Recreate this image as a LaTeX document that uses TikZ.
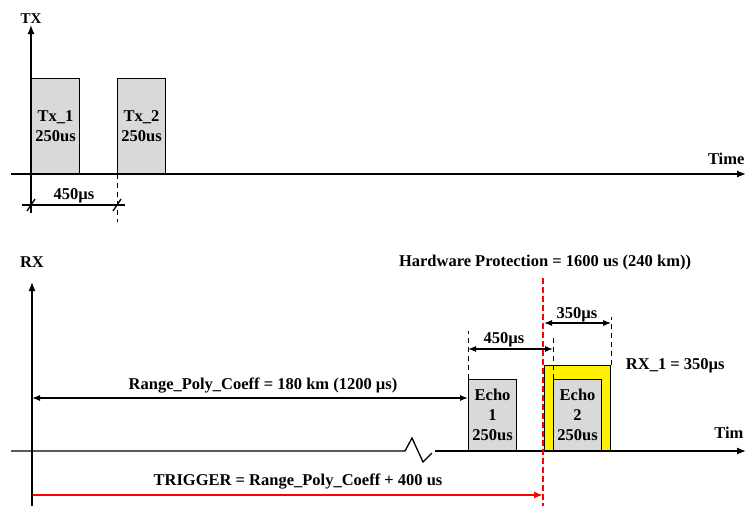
\documentclass[tikz,border=0pt]{standalone}
\usepackage{fontspec}
\setmainfont{Liberation Serif}
\usetikzlibrary{arrows.meta}
\tikzset{
  pulse/.style={draw, line width=1.2pt, fill=gray!30, minimum width=48pt,
    align=center, inner sep=0pt, anchor=south west},
  dimline/.style={line width=1.2pt, {Latex[length=8pt,width=6pt]}-{Latex[length=8pt,width=6pt]}},
  guide/.style={line width=1pt, dash pattern=on 5pt off 4pt},
}
\begin{document}
\begin{tikzpicture}[x=1pt, y=-1pt, line width=1.3pt,
  font=\fontsize{16.5}{20}\selectfont\bfseries,
  >={Latex[length=9pt,width=7pt]}]
\useasboundingbox (0,0) rectangle (746,506);
% TX
\pgfmathsetmacro{\t}{174}
\draw [->] (31,213)--(31,25);
\node[anchor=base, font=\fontsize{15}{18}\selectfont\bfseries] (txlab) at (31,23) {TX};
\draw [->] (11,\t)--(746,\t);
\node[anchor=base east, inner xsep=0pt] (txtime) at (745,164) {Time};
\node[pulse, minimum height=95pt] (tx1) at (31,\t) {Tx\_1\\250us};
\node[pulse, minimum height=95pt] (tx2) at (117,\t) {Tx\_2\\250us};
\draw [guide] (tx2.south west)--++(0,48);
\coordinate (d1) at (22,205);
\draw (d1)--(125,205);
\draw (27,211)--(35,199);
\draw (113,211)--(121,199);
\node[anchor=base] (txgap) at (74,199) {450µs};
% RX
\pgfmathsetmacro{\r}{451}
\draw [->] (32,506)--(32,282);
\node[anchor=base] (rxlab) at (32,267) {RX};
\draw (11,\r)--(405,\r)--(412,438)--(423,462)--(432,453);
\draw [->] (435,\r)--(746,\r);
\node[anchor=base east, inner xsep=0pt] (rxtime) at (744,438) {Tim};
\node[draw, line width=1.2pt, fill=yellow, minimum width=66pt, minimum height=85pt,
  inner sep=0pt, anchor=south west] (rxwin) at (544,\r) {};
\node[pulse, minimum height=71pt] (echo1) at (468,\r) {Echo\\1\\250us};
\node[pulse, minimum height=71pt] (echo2) at (553,\r) {Echo\\2\\250us};
\draw [guide] (echo1.north west)--++(0,-48);
\draw [guide] (echo2.north west)--++(0,-42);
\draw [guide] (rxwin.north east)--++(0,-48);
\coordinate (d450) at (0,349);
\coordinate (d350) at (0,323);
\draw [dimline] (echo1.north west |- d450)--(echo2.north west |- d450);
\node[anchor=base] (gap450) at (504,343) {450µs};
\draw [dimline] (rxwin.north west |- d350)--(rxwin.north east |- d350);
\node[anchor=base] (gap350) at (577,318) {350µs};
\node[anchor=base west] (rx1) at (622,369) {RX\_1 = 350µs};
\coordinate (rng) at (32,398);
\draw [dimline] (rng)--(echo1.west |- rng);
\node[anchor=base] (rnglab) at (263,389) {Range\_Poly\_Coeff = 180 km (1200 µs)};
% hardware protection and trigger
\coordinate (hwp) at (543,278);
\draw [red, line width=1.6pt, dash pattern=on 6pt off 3pt] (hwp)--(543,506);
\node[anchor=base] (hwlab) at (545,266) {Hardware Protection = 1600 us (240 km))};
\coordinate (trg) at (33,495);
\draw [red, line width=1.8pt, ->] (trg)--(trg -| hwp);
\node[anchor=base] (trglab) at (298,485) {TRIGGER = Range\_Poly\_Coeff + 400 us};
\end{tikzpicture}
\end{document}
